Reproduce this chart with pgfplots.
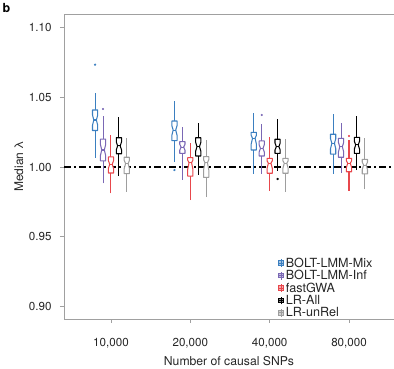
\documentclass[border=0pt]{standalone}
\usepackage{fontspec}
\setmainfont{TeX Gyre Heros}
\usepackage{pgfplots}
\pgfplotsset{compat=1.18}
\definecolor{cblue}{HTML}{3B7FC0}
\definecolor{cpurple}{HTML}{7A68B5}
\definecolor{cred}{HTML}{E8474C}
\definecolor{cgray}{HTML}{9E9E9E}
\definecolor{cax}{HTML}{A0A0A0}
\pgfplotsset{
  licon/.style={legend image code/.code={%
    \draw[##1, line width=0.9pt] (0.09cm,-0.14cm) -- (0.09cm,0.14cm);
    \filldraw[##1, line width=0.9pt, fill opacity=0.45] (0cm,-0.08cm) rectangle (0.18cm,0.08cm);
    \draw[##1, line width=0.6pt] (0cm,0cm) -- (0.18cm,0cm);}},
}
% \bx{position}{colour}{lower whisker}{lower quartile}{median}{upper quartile}{upper whisker}
\newcommand{\bx}[7]{%
  \pgfmathsetmacro\xl{#1-0.033}%
  \pgfmathsetmacro\xr{#1+0.033}%
  \pgfmathsetmacro\xpl{#1-0.016}%
  \pgfmathsetmacro\xpr{#1+0.016}%
  \pgfmathsetmacro\yln{#5-0.5*(#5-#4)}%
  \pgfmathsetmacro\yun{#5+0.5*(#6-#5)}%
  \edef\bxplot{%
    \noexpand\addplot[#2, line width=1.05pt, forget plot] coordinates {(#1,#3) (#1,#4)};
    \noexpand\addplot[#2, line width=1.05pt, forget plot] coordinates {(#1,#6) (#1,#7)};
    \noexpand\addplot[#2, line width=1.05pt, fill=white, line join=round, forget plot] coordinates {(#1,#4) (\xl,#4) (\xl,\yln) (\xpl,#5) (\xl,\yun) (\xl,#6) (\xr,#6) (\xr,\yun) (\xpr,#5) (\xr,\yln) (\xr,#4) (#1,#4)};
    \noexpand\addplot[#2, line width=1.05pt, forget plot] coordinates {(\xpl,#5) (\xpr,#5)};}%
  \bxplot}
\begin{document}
\begin{tikzpicture}
\begin{axis}[
  at={(64pt,50pt)}, anchor=south west,
  scale only axis, width=330pt, height=305pt,
  xmin=-0.592, xmax=3.567, ymin=0.89096, ymax=1.10976,
  axis x line*=box, axis y line*=left,
  axis line style={draw=cax, line width=0.8pt, -},
  tick style={draw=cax, line width=0.8pt},
  tick align=outside, major tick length=4pt, tick pos=left,
  xtick={0,1,2,3}, xticklabels={{10,000},{20,000},{40,000},{80,000}},
  ytick={0.9,0.95,1,1.05,1.1}, yticklabels={0.90,0.95,1.00,1.05,1.10},
  ticklabel style={font=\fontsize{11.6}{13}\selectfont, text=black!85},
  xticklabel style={yshift=-12pt},
  yticklabel style={xshift=-5pt},
  xlabel={Number of causal SNPs}, ylabel={Median λ},
  label style={text=black!85},
  xlabel style={font=\fontsize{12.2}{14}\selectfont, at={(axis description cs:0.5,-0.1541)}, anchor=base},
  ylabel style={font=\fontsize{12}{14}\selectfont, at={(axis description cs:-0.1242,0.5)}, anchor=base},
  legend style={at={(axis description cs:0.639,0.215)}, anchor=north west, draw=none, fill=none,
    font=\fontsize{12.6}{14}\selectfont, row sep=-2.4pt, column sep=0pt, nodes={text=black!85, inner xsep=1.8pt}},
  legend cell align=left,
]
\addplot[black, line width=1.3pt, dash pattern=on 7pt off 3pt on 2pt off 3pt, forget plot] coordinates {(-0.592,1) (3.567,1)};
\addlegendimage{cblue, licon}\addlegendentry{BOLT-LMM-Mix}
\addlegendimage{cpurple, licon}\addlegendentry{BOLT-LMM-Inf}
\addlegendimage{cred, licon}\addlegendentry{fastGWA}
\addlegendimage{black, licon}\addlegendentry{LR-All}
\addlegendimage{cgray, licon}\addlegendentry{LR-unRel}
% group 1: 10,000
\bx{-0.2}{cblue}{1.0065}{1.0262}{1.0337}{1.0409}{1.0530}
\bx{-0.1}{cpurple}{0.9883}{1.0044}{1.0122}{1.0200}{1.0366}
\bx{0.0}{cred}{0.9811}{0.9957}{1.0020}{1.0072}{1.0228}
\bx{0.1}{black}{0.9935}{1.0095}{1.0151}{1.0210}{1.0361}
\bx{0.2}{cgray}{0.9823}{0.9952}{1.0025}{1.0070}{1.0210}
% group 2: 20,000
\bx{0.8}{cblue}{1.0038}{1.0189}{1.0265}{1.0330}{1.0473}
\bx{0.9}{cpurple}{0.9907}{1.0098}{1.0143}{1.0182}{1.0285}
\bx{1.0}{cred}{0.9763}{0.9935}{1.0031}{1.0067}{1.0170}
\bx{1.1}{black}{0.9943}{1.0079}{1.0146}{1.0210}{1.0318}
\bx{1.2}{cgray}{0.9783}{0.9926}{1.0031}{1.0074}{1.0194}
% group 3: 40,000
\bx{1.8}{cblue}{0.9950}{1.0122}{1.0206}{1.0249}{1.0385}
\bx{1.9}{cpurple}{0.9950}{1.0079}{1.0134}{1.0187}{1.0308}
\bx{2.0}{cred}{0.9830}{0.9955}{1.0027}{1.0062}{1.0213}
\bx{2.1}{black}{0.9973}{1.0098}{1.0146}{1.0199}{1.0342}
\bx{2.2}{cgray}{0.9823}{0.9955}{1.0027}{1.0062}{1.0199}
% group 4: 80,000
\bx{2.8}{cblue}{0.9950}{1.0093}{1.0170}{1.0235}{1.0380}
\bx{2.9}{cpurple}{0.9959}{1.0070}{1.0146}{1.0206}{1.0313}
\bx{3.0}{cred}{0.9830}{0.9966}{1.0027}{1.0062}{1.0194}
\bx{3.1}{black}{0.9978}{1.0098}{1.0158}{1.0213}{1.0366}
\bx{3.2}{cgray}{0.9840}{0.9950}{1.0014}{1.0055}{1.0206}
% outliers
\addplot[cblue, only marks, mark=*, mark size=0.9pt, forget plot] coordinates {(-0.2,1.0734) (0.8,0.9978)};
\addplot[cpurple, only marks, mark=*, mark size=0.9pt, forget plot] coordinates {(-0.1,1.0416) (1.9,1.0373)};
\addplot[black, only marks, mark=*, mark size=0.9pt, forget plot] coordinates {(2.1,0.9914)};
\addplot[cred, only marks, mark=*, mark size=0.9pt, forget plot] coordinates {(3.0,1.0222)};
\end{axis}
\node[anchor=north west, inner sep=0pt, font=\bfseries\fontsize{12.5}{12}\selectfont] at (2.5pt,366pt) {b};
\pgfresetboundingbox
\path[use as bounding box] (0,0) rectangle (394pt,369pt);
\end{tikzpicture}
\end{document}
